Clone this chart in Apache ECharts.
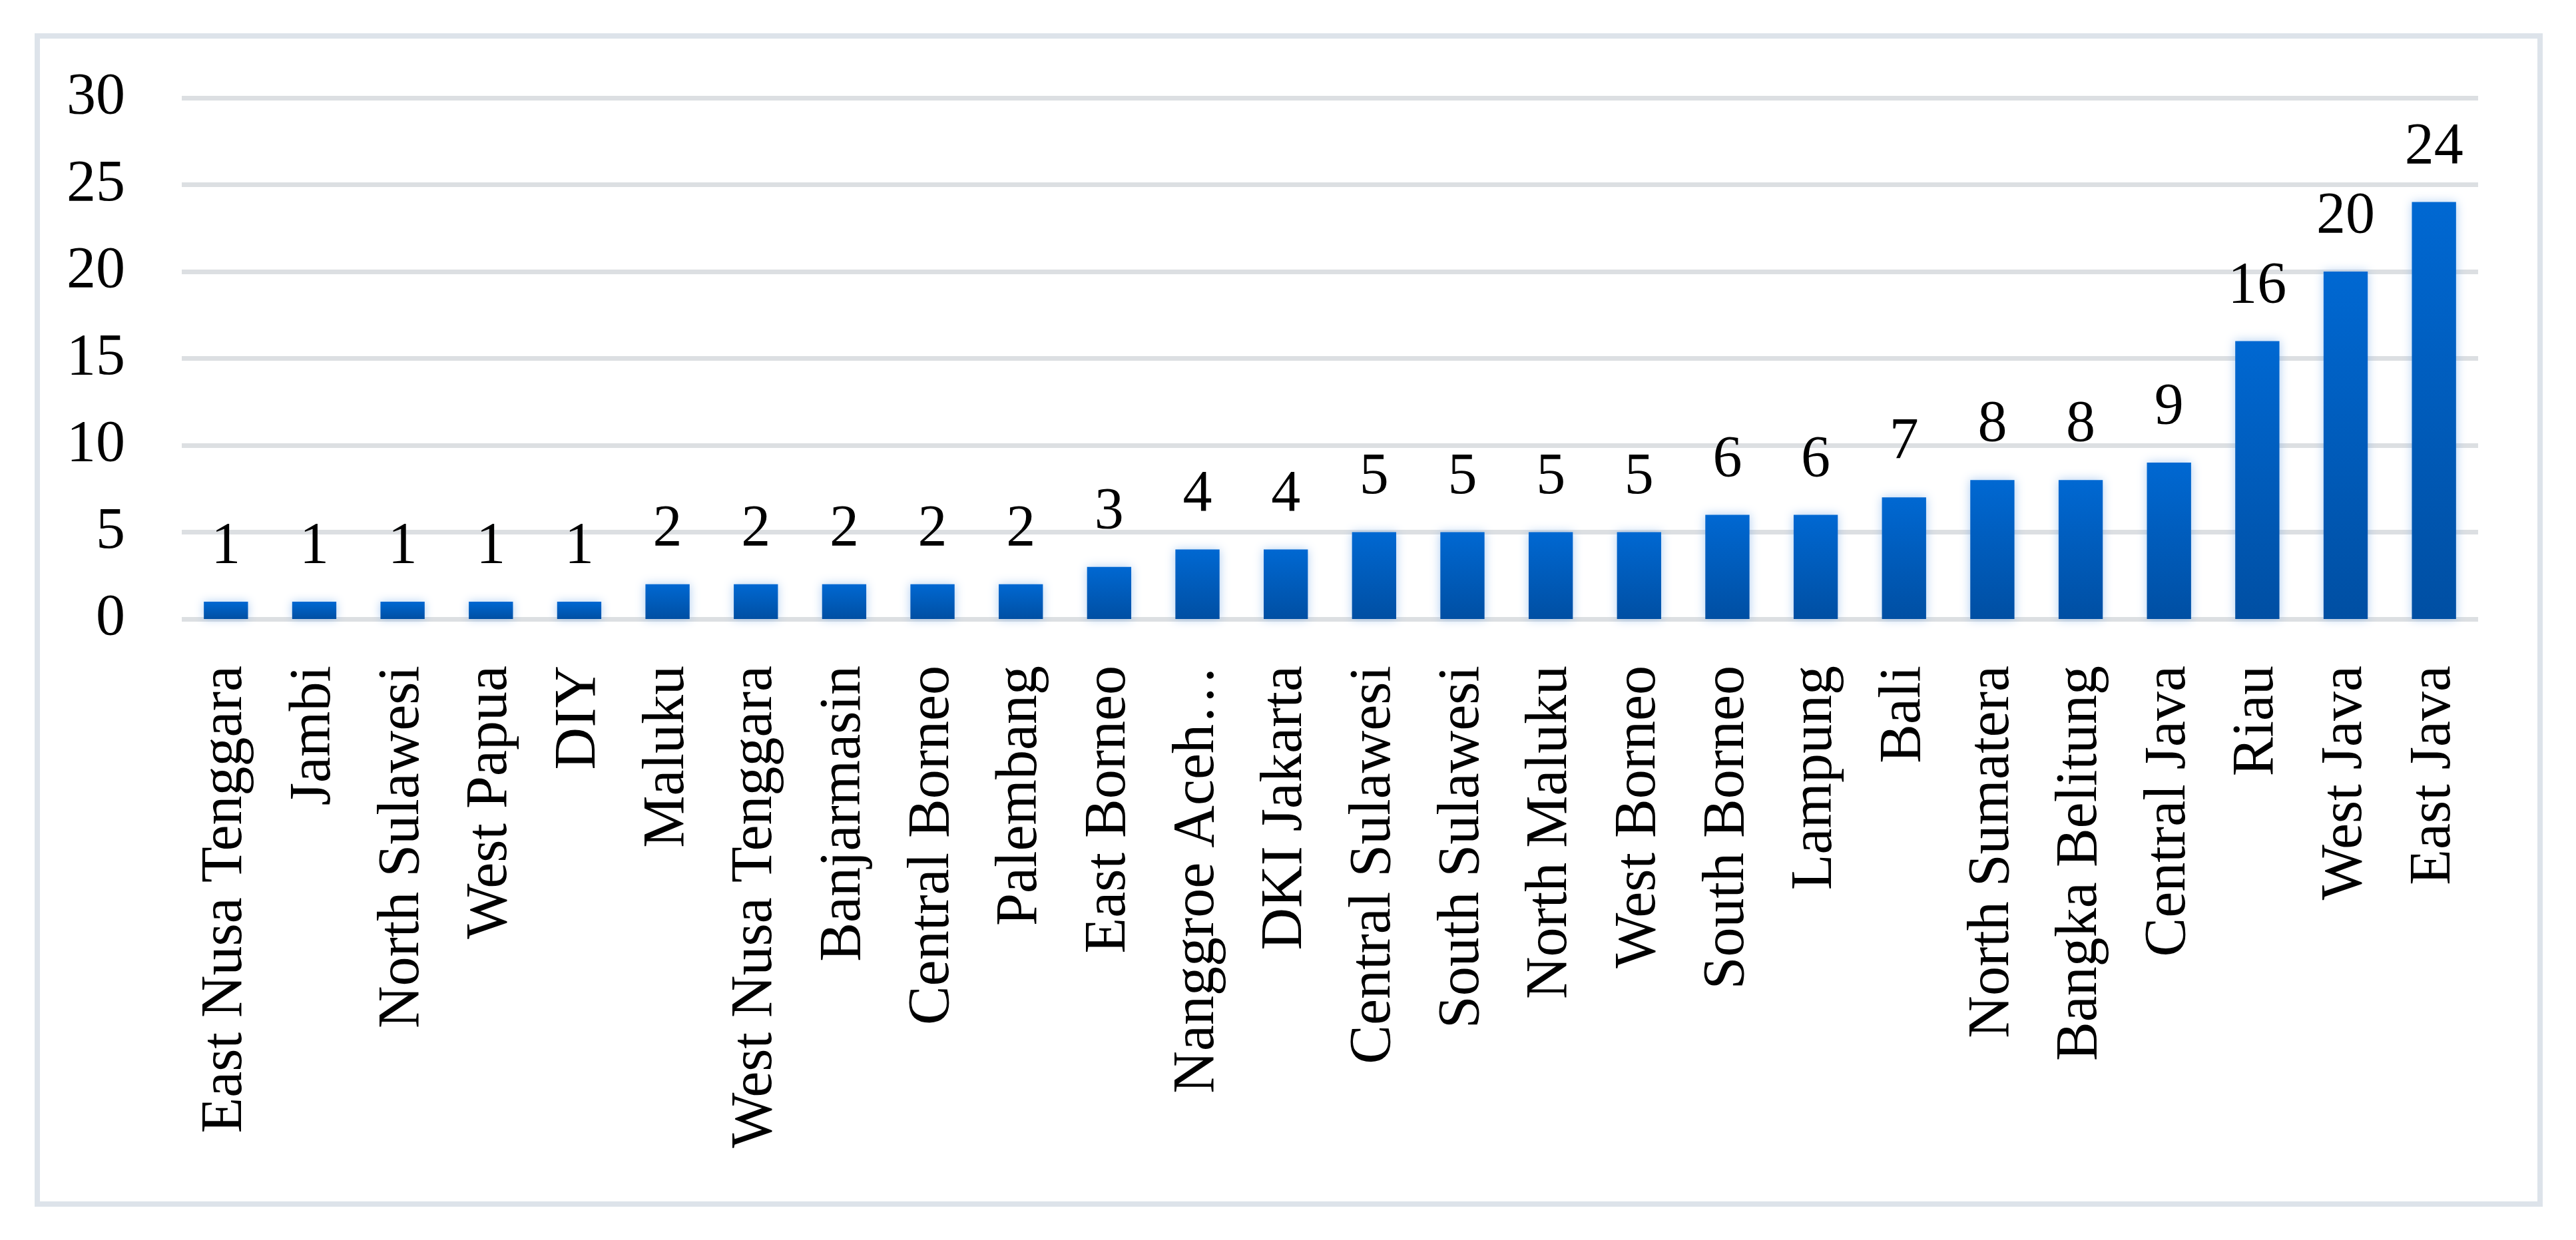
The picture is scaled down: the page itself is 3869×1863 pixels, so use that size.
<!DOCTYPE html>
<html>
<head>
<meta charset="utf-8">
<script src="https://cdn.jsdelivr.net/npm/echarts@6/dist/echarts.min.js"></script>
<style>
html,body{margin:0;padding:0;background:#fff;}
#chart{width:3869px;height:1863px;}
</style>
</head>
<body>
<div id="chart"></div>
<script>
const categories = ["East Nusa Tenggara","Jambi","North Sulawesi","West Papua","DIY","Maluku","West Nusa Tenggara","Banjarmasin","Central Borneo","Palembang","East Borneo","Nanggroe Aceh…","DKI Jakarta","Central Sulawesi","South Sulawesi","North Maluku","West Borneo","South Borneo","Lampung","Bali","North Sumatera","Bangka Belitung","Central Java","Riau","West Java","East Java"];
const values = [1,1,1,1,1,2,2,2,2,2,3,4,4,5,5,5,5,6,6,7,8,8,9,16,20,24];
const yTicks = [0,5,10,15,20,25,30];

const FONT = '"Palatino Linotype","Book Antiqua",Palatino,"Liberation Serif",serif';
const chart = echarts.init(document.getElementById('chart'));
chart.setOption({
  backgroundColor: '#ffffff',
  animation: false,
  graphic: [{
    type: 'rect',
    shape: {x: 56, y: 54, width: 3759, height: 1755},
    style: {fill: 'none', stroke: '#dde3ea', lineWidth: 8},
    z: 0
  }],
  grid: {left: 273, right: 147, top: 147, bottom: 933, containLabel: false},
  xAxis: {
    type: 'category',
    data: categories,
    axisLine: {show: false},
    axisTick: {show: false},
    axisLabel: {
      interval: 0, rotate: 90, margin: 70,
      fontFamily: FONT, fontSize: 88, color: '#000'
    }
  },
  yAxis: {
    type: 'value',
    min: yTicks[0], max: yTicks[yTicks.length-1], interval: 5,
    axisLine: {show: false},
    axisTick: {show: false},
    axisLabel: {margin: 85, fontFamily: FONT, fontSize: 88, color: '#000'},
    splitLine: {lineStyle: {color: '#dcdfe2', width: 7}}
  },
  series: [{
    type: 'bar',
    data: values,
    barWidth: '50%',
    itemStyle: {
      color: new echarts.graphic.LinearGradient(0, 0, 0, 1, [
        {offset: 0, color: '#0068d2'},
        {offset: 1, color: '#004fa3'}
      ]),
      shadowColor: 'rgba(110,165,230,0.55)',
      shadowBlur: 14
    },
    label: {
      show: true, position: 'top', distance: 38,
      fontFamily: FONT, fontSize: 88, color: '#000'
    }
  }]
});
</script>
</body>
</html>
